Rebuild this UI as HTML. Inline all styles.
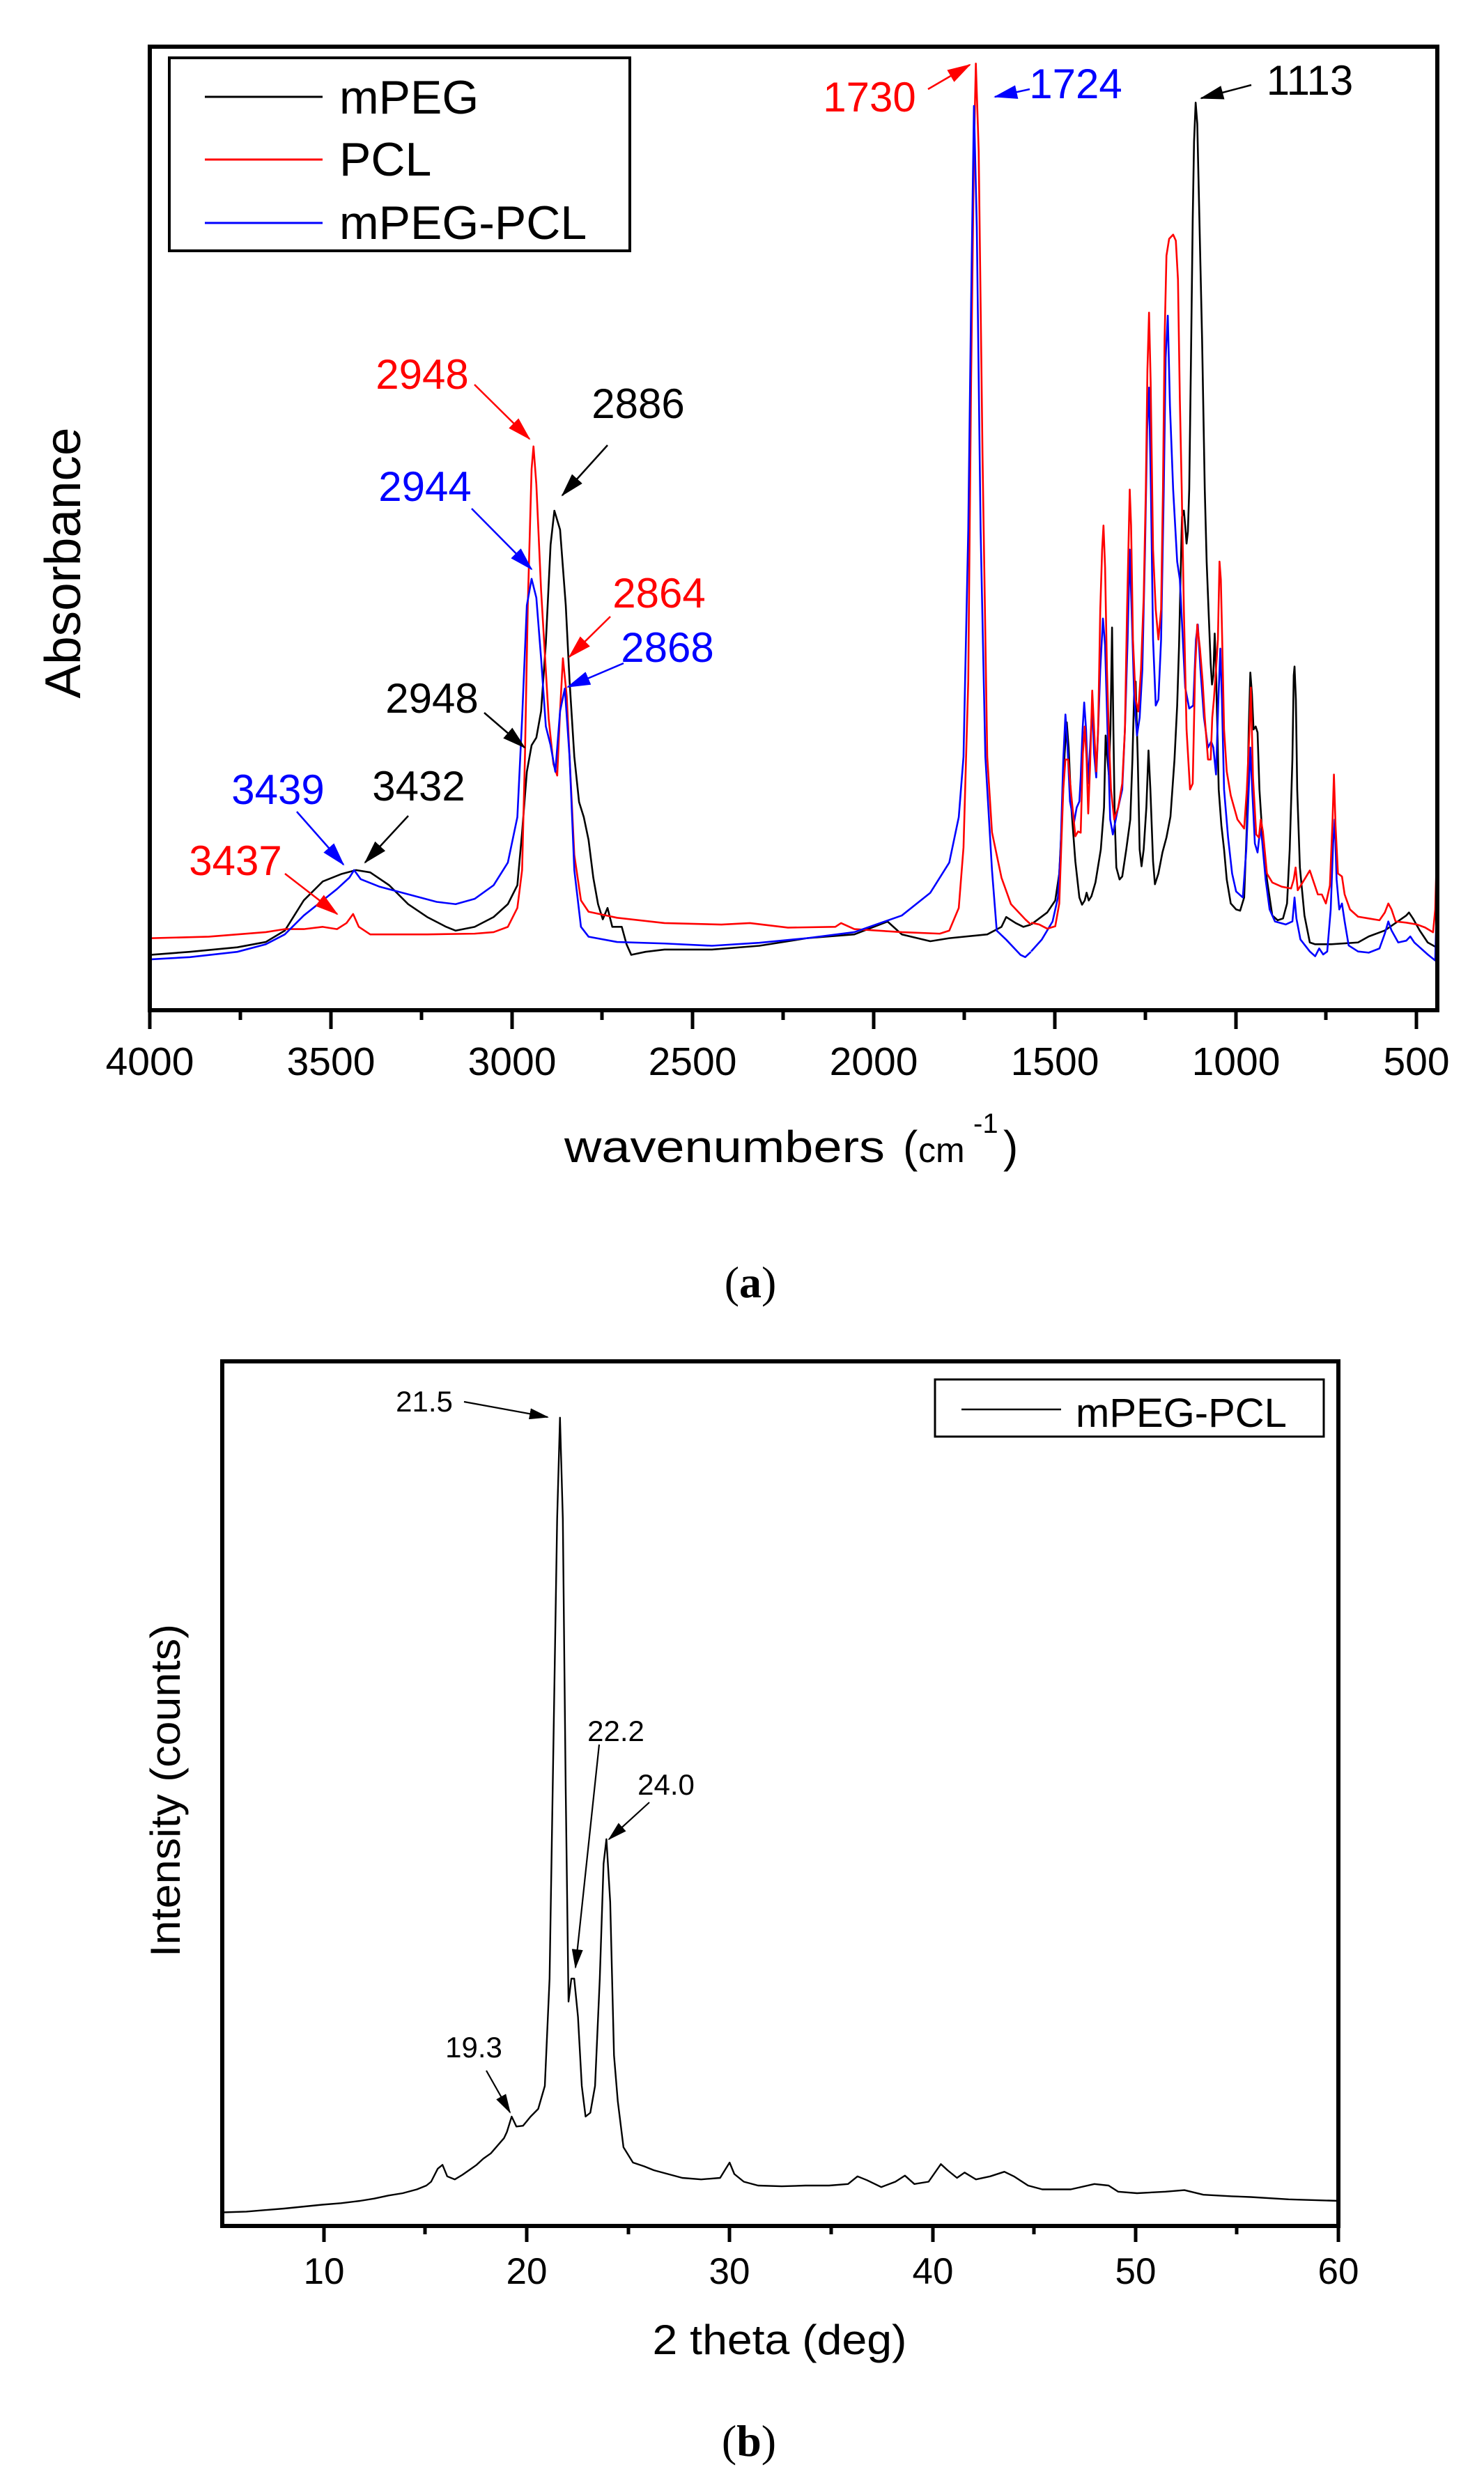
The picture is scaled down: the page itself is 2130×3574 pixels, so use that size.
<!DOCTYPE html>
<html><head><meta charset="utf-8"><style>
html,body{margin:0;padding:0;background:#fff;}
svg{display:block;}
text{font-family:"Liberation Sans",sans-serif;}
</style></head><body>
<svg width="2130" height="3574" viewBox="0 0 2130 3574" xmlns="http://www.w3.org/2000/svg">
<defs>
<marker id="ak" markerWidth="34" markerHeight="20" refX="32" refY="10" orient="auto" markerUnits="userSpaceOnUse"><path d="M0,0 L34,10 L0,20 Z" fill="#000"/></marker>
<marker id="ar" markerWidth="34" markerHeight="20" refX="32" refY="10" orient="auto" markerUnits="userSpaceOnUse"><path d="M0,0 L34,10 L0,20 Z" fill="#f00"/></marker>
<marker id="ab" markerWidth="34" markerHeight="20" refX="32" refY="10" orient="auto" markerUnits="userSpaceOnUse"><path d="M0,0 L34,10 L0,20 Z" fill="#00f"/></marker>
<marker id="ak2" markerWidth="28" markerHeight="16" refX="26" refY="8" orient="auto" markerUnits="userSpaceOnUse"><path d="M0,0 L28,8 L0,16 Z" fill="#000"/></marker>
<clipPath id="c1"><rect x="215" y="67" width="1848" height="1383"/></clipPath>
</defs>

<!-- ===== TOP CHART ===== -->
<g clip-path="url(#c1)" fill="none" stroke-width="2.6" stroke-linejoin="round">
<g transform="scale(1.3625 1.086)">
<polyline vector-effect="non-scaling-stroke" stroke="#000" points="158,1262 200,1258 250,1252 280,1245 300,1230 320,1190 340,1165 360,1155 375,1150 390,1153 410,1170 430,1195 450,1212 470,1225 480,1230 500,1225 520,1212 535,1195 545,1170 550,1100 555,1020 560,985 565,975 570,940 575,850 580,720 584,675 590,700 596,800 600,900 605,1000 610,1060 615,1080 620,1110 625,1160 630,1195 635,1215 640,1200 645,1225 655,1225 660,1248 665,1262 680,1258 700,1255 750,1255 800,1250 850,1240 900,1235 935,1218 950,1235 980,1244 1000,1240 1040,1235 1055,1225 1060,1212 1070,1220 1078,1225 1086,1222"/>
<polyline vector-effect="non-scaling-stroke" stroke="#f00" points="158,1240 220,1238 280,1232 300,1228 320,1228 340,1225 355,1228 365,1220 372,1208 378,1225 390,1235 450,1235 500,1234 520,1232 535,1225 545,1200 550,1150 553,1000 556,800 560,620 562,590 565,640 570,780 578,950 583,1010 587,1025 590,940 593,870 597,920 600,1000 605,1130 612,1190 620,1205 650,1213 700,1220 760,1222 790,1220 830,1226 880,1225 886,1220 900,1228 950,1232 990,1234 1000,1230 1010,1200 1015,1120 1020,900 1023,500 1026,200 1028,84 1031,200 1035,600 1040,1000 1045,1100 1055,1160 1065,1195 1080,1215 1086,1222"/>
<polyline vector-effect="non-scaling-stroke" stroke="#00f" points="158,1268 200,1265 250,1258 280,1248 300,1235 320,1210 340,1190 355,1175 368,1160 373,1150 380,1162 400,1172 430,1182 460,1192 480,1195 500,1188 520,1170 535,1140 545,1080 550,950 555,800 560,765 565,790 570,870 575,960 580,985 585,1020 590,940 595,910 600,1000 605,1150 612,1225 620,1238 650,1245 700,1247 750,1250 800,1246 850,1240 900,1232 950,1210 980,1180 1000,1140 1010,1080 1015,1000 1020,700 1023,400 1026,140 1029,300 1033,700 1038,1000 1045,1150 1050,1230 1060,1242 1075,1262 1080,1265 1086,1258"/>
</g>
<g transform="translate(1480 100) scale(0.3846 0.861)">
<polyline vector-effect="non-scaling-stroke" stroke="#000" points="0,1425 60,1405 90,1385 105,1340 115,1250 125,1140 133,1088 140,1130 150,1230 165,1320 180,1380 190,1392 200,1385 207,1372 215,1385 225,1378 240,1355 260,1300 272,1230 278,1110 283,1140 290,1175 296,1100 302,930 307,1100 312,1250 318,1330 330,1350 340,1345 355,1300 370,1250 378,1150 385,1030 390,1020 398,1150 405,1300 412,1328 420,1300 430,1230 438,1135 445,1200 455,1320 462,1358 475,1340 490,1305 505,1280 520,1245 535,1150 545,1060 552,960 558,840 563,745 570,735 575,760 580,790 585,770 590,700 596,500 603,250 608,120 614,55 620,90 628,250 638,450 648,700 655,820 662,900 670,990 675,1025 680,1010 685,940 690,1000 695,1100 700,1200 710,1260 720,1300 730,1350 745,1390 765,1400 780,1402 795,1380 805,1260 812,1100 818,1005 824,1040 830,1100 838,1095 845,1105 852,1200 862,1270 880,1350 900,1410 920,1418 940,1415 955,1390 965,1300 975,1150 980,1010 983,995 988,1050 993,1200 1003,1330 1020,1410 1040,1455 1060,1458 1120,1458 1220,1455 1260,1445 1320,1435 1400,1410 1410,1405 1425,1415 1450,1435 1480,1455 1520,1465"/>
<polyline vector-effect="non-scaling-stroke" stroke="#00f" points="0,1470 40,1450 80,1420 100,1380 110,1300 120,1150 128,1075 135,1120 145,1220 160,1255 170,1230 180,1220 185,1180 192,1100 198,1055 205,1100 212,1190 220,1130 228,1060 235,1140 243,1180 250,1100 258,1000 268,915 276,960 285,1100 295,1250 305,1275 320,1240 340,1200 350,1100 360,950 368,800 375,900 385,1050 395,1110 405,1080 415,1000 425,800 433,600 440,530 447,700 455,950 465,1060 475,1050 485,950 495,700 502,480 510,410 518,560 530,700 545,820 555,850 565,940 575,1030 590,1065 605,1060 615,950 622,925 632,1000 645,1080 660,1130 672,1120 680,1130 690,1175 698,1060 706,965 712,1050 720,1200 735,1280 750,1340 765,1370 790,1380 803,1300 812,1200 818,1130 825,1200 835,1290 845,1305 855,1265 862,1285 875,1350 890,1400 910,1420 950,1425 975,1420 983,1380 990,1415 1005,1450 1040,1470 1060,1478 1075,1465 1090,1475 1105,1470 1118,1400 1127,1290 1133,1250 1140,1350 1150,1400 1160,1390 1170,1420 1185,1460 1220,1470 1260,1472 1300,1465 1320,1440 1333,1420 1345,1435 1370,1455 1400,1452 1415,1445 1430,1455 1480,1475 1508,1485 1512,1420 1518,1490"/>
<polyline vector-effect="non-scaling-stroke" stroke="#f00" points="0,1422 30,1425 60,1432 90,1428 105,1390 112,1300 120,1200 128,1150 138,1150 150,1210 165,1278 175,1270 185,1272 193,1140 200,1095 207,1150 213,1240 220,1160 228,1035 235,1100 243,1170 250,1100 258,900 265,800 270,760 276,830 283,1000 290,1110 298,1200 310,1250 325,1230 340,1190 350,1100 358,900 363,800 368,700 373,760 380,950 390,1050 400,1070 410,1000 420,880 428,700 434,500 440,405 446,520 455,800 465,900 475,950 485,900 492,700 498,450 505,310 515,282 530,275 540,285 548,350 555,550 562,700 570,900 580,1100 593,1200 603,1190 612,1000 620,925 630,965 640,1020 648,1080 660,1150 670,1150 676,1080 682,1050 690,1000 697,950 703,820 708,850 713,950 720,1100 730,1170 745,1210 770,1250 795,1265 805,1200 815,1100 820,1030 828,1180 840,1275 850,1280 857,1250 865,1270 880,1340 900,1355 935,1362 970,1365 980,1350 987,1330 995,1368 1020,1350 1040,1335 1055,1355 1070,1375 1085,1375 1100,1390 1115,1360 1125,1250 1130,1175 1136,1260 1145,1340 1160,1345 1170,1375 1190,1400 1220,1412 1260,1415 1300,1418 1320,1405 1333,1390 1345,1400 1360,1420 1400,1422 1440,1425 1470,1430 1500,1438 1508,1400 1512,1335 1518,1380"/>
</g>
</g>
<rect x="215" y="67" width="1848" height="1383" fill="none" stroke="#000" stroke-width="6"/>
<!-- ticks top -->
<g stroke="#000" stroke-width="5">
<line x1="215" y1="1450" x2="215" y2="1477"/><line x1="345" y1="1450" x2="345" y2="1464"/>
<line x1="475" y1="1450" x2="475" y2="1477"/><line x1="605" y1="1450" x2="605" y2="1464"/>
<line x1="735" y1="1450" x2="735" y2="1477"/><line x1="864" y1="1450" x2="864" y2="1464"/>
<line x1="994" y1="1450" x2="994" y2="1477"/><line x1="1124" y1="1450" x2="1124" y2="1464"/>
<line x1="1254" y1="1450" x2="1254" y2="1477"/><line x1="1384" y1="1450" x2="1384" y2="1464"/>
<line x1="1514" y1="1450" x2="1514" y2="1477"/><line x1="1644" y1="1450" x2="1644" y2="1464"/>
<line x1="1774" y1="1450" x2="1774" y2="1477"/><line x1="1903" y1="1450" x2="1903" y2="1464"/>
<line x1="2033" y1="1450" x2="2033" y2="1477"/>
</g>
<g font-size="57" text-anchor="middle" fill="#000">
<text x="215" y="1543">4000</text><text x="475" y="1543">3500</text><text x="735" y="1543">3000</text>
<text x="994" y="1543">2500</text><text x="1254" y="1543">2000</text><text x="1514" y="1543">1500</text>
<text x="1774" y="1543">1000</text><text x="2033" y="1543">500</text>
</g>
<text x="810" y="1668" font-size="64" textLength="460" lengthAdjust="spacingAndGlyphs">wavenumbers</text>
<text x="1296" y="1668" font-size="64">(</text>
<text x="1318" y="1668" font-size="50">cm</text>
<text x="1397" y="1626" font-size="40">-1</text>
<text x="1440" y="1668" font-size="64">)</text>
<text transform="translate(115 808) rotate(-90)" font-size="72" text-anchor="middle" textLength="389" lengthAdjust="spacingAndGlyphs">Absorbance</text>
<!-- legend top -->
<rect x="243" y="83" width="661" height="277" fill="#fff" stroke="#000" stroke-width="4"/>
<line x1="294" y1="139" x2="463" y2="139" stroke="#000" stroke-width="3"/>
<line x1="294" y1="229" x2="463" y2="229" stroke="#f00" stroke-width="3"/>
<line x1="294" y1="320" x2="463" y2="320" stroke="#00f" stroke-width="3"/>
<g font-size="68" fill="#000"><text x="487" y="163">mPEG</text><text x="487" y="252">PCL</text><text x="487" y="343">mPEG-PCL</text></g>
<!-- annotations top -->
<g font-size="60" text-anchor="middle">
<text x="606" y="558" fill="#f00">2948</text>
<text x="916" y="600" fill="#000">2886</text>
<text x="610" y="719" fill="#00f">2944</text>
<text x="946" y="872" fill="#f00">2864</text>
<text x="958" y="950" fill="#00f">2868</text>
<text x="620" y="1023" fill="#000">2948</text>
<text x="399" y="1154" fill="#00f">3439</text>
<text x="601" y="1149" fill="#000">3432</text>
<text x="338" y="1256" fill="#f00">3437</text>
<text x="1248" y="160" fill="#f00">1730</text>
<text x="1544" y="141" fill="#00f">1724</text>
<text x="1880" y="136" fill="#000">1113</text>
</g>
<g stroke-width="2.5" fill="none">
<line x1="681" y1="552" x2="760" y2="630" stroke="#f00" marker-end="url(#ar)"/>
<line x1="872" y1="639" x2="807" y2="711" stroke="#000" marker-end="url(#ak)"/>
<line x1="677" y1="730" x2="763" y2="817" stroke="#00f" marker-end="url(#ab)"/>
<line x1="876" y1="885" x2="817" y2="943" stroke="#f00" marker-end="url(#ar)"/>
<line x1="895" y1="952" x2="815" y2="986" stroke="#00f" marker-end="url(#ab)"/>
<line x1="695" y1="1023" x2="753" y2="1073" stroke="#000" marker-end="url(#ak)"/>
<line x1="426" y1="1165" x2="493" y2="1241" stroke="#00f" marker-end="url(#ab)"/>
<line x1="586" y1="1171" x2="524" y2="1238" stroke="#000" marker-end="url(#ak)"/>
<line x1="409" y1="1254" x2="484" y2="1312" stroke="#f00" marker-end="url(#ar)"/>
<line x1="1332" y1="128" x2="1392" y2="93" stroke="#f00" marker-end="url(#ar)"/>
<line x1="1478" y1="128" x2="1428" y2="139" stroke="#00f" marker-end="url(#ab)"/>
<line x1="1796" y1="122" x2="1724" y2="141" stroke="#000" marker-end="url(#ak)"/>
</g>
<text x="1077" y="1862" font-family="Liberation Serif,serif" font-size="64" text-anchor="middle" style="font-family:'Liberation Serif',serif">(<tspan font-weight="bold">a</tspan>)</text>

<!-- ===== BOTTOM CHART ===== -->
<g transform="translate(0 1850) scale(1.36 1.10)">
<polyline vector-effect="non-scaling-stroke" fill="none" stroke="#000" stroke-width="2.4" stroke-linejoin="round" points="235,1205 260,1204 300,1200 340,1195 360,1193 380,1190 395,1187 410,1183 425,1180 440,1175 450,1170 455,1165 462,1148 467,1143 472,1158 480,1162 488,1156 495,1150 503,1143 510,1135 518,1128 525,1118 532,1108 535,1100 540,1080 545,1093 552,1092 560,1080 568,1070 575,1040 580,900 584,600 588,300 591,168 594,300 597,650 600,930 603,900 606,900 610,950 614,1040 618,1080 623,1075 628,1040 633,900 637,750 640,718 644,800 648,1000 652,1060 658,1120 668,1140 680,1145 690,1150 705,1155 720,1160 740,1162 760,1160 766,1148 770,1140 775,1155 785,1165 800,1170 825,1171 850,1170 875,1170 895,1168 905,1158 915,1163 930,1172 945,1165 955,1157 965,1168 980,1165 993,1142 1000,1150 1010,1160 1018,1153 1030,1162 1045,1158 1060,1152 1070,1158 1085,1170 1100,1175 1130,1175 1155,1168 1170,1170 1180,1178 1200,1180 1230,1178 1250,1176 1270,1182 1300,1184 1320,1185 1360,1188 1413,1190"/>
</g>
<rect x="319" y="1954" width="1602" height="1241" fill="none" stroke="#000" stroke-width="6"/>
<g stroke="#000" stroke-width="5">
<line x1="465" y1="3195" x2="465" y2="3218"/><line x1="756" y1="3195" x2="756" y2="3218"/>
<line x1="1047" y1="3195" x2="1047" y2="3218"/><line x1="1339" y1="3195" x2="1339" y2="3218"/>
<line x1="1630" y1="3195" x2="1630" y2="3218"/><line x1="1921" y1="3195" x2="1921" y2="3218"/>
<line x1="610" y1="3195" x2="610" y2="3207"/><line x1="902" y1="3195" x2="902" y2="3207"/>
<line x1="1193" y1="3195" x2="1193" y2="3207"/><line x1="1484" y1="3195" x2="1484" y2="3207"/>
<line x1="1775" y1="3195" x2="1775" y2="3207"/>
</g>
<g font-size="53" text-anchor="middle" fill="#000">
<text x="465" y="3278">10</text><text x="756" y="3278">20</text><text x="1047" y="3278">30</text>
<text x="1339" y="3278">40</text><text x="1630" y="3278">50</text><text x="1921" y="3278">60</text>
</g>
<text x="1119" y="3379" font-size="60" text-anchor="middle" textLength="365" lengthAdjust="spacingAndGlyphs">2 theta (deg)</text>
<text transform="translate(258 2570) rotate(-90)" font-size="60" text-anchor="middle" textLength="478" lengthAdjust="spacingAndGlyphs">Intensity (counts)</text>
<rect x="1342" y="1980" width="558" height="82" fill="#fff" stroke="#000" stroke-width="3"/>
<line x1="1380" y1="2023" x2="1523" y2="2023" stroke="#000" stroke-width="2.5"/>
<text x="1544" y="2048" font-size="58">mPEG-PCL</text>
<g font-size="42" text-anchor="middle">
<text x="609" y="2026">21.5</text><text x="884" y="2499">22.2</text>
<text x="956" y="2576">24.0</text><text x="680" y="2953">19.3</text>
</g>
<g stroke="#000" stroke-width="2.2">
<line x1="666" y1="2012" x2="786" y2="2034" marker-end="url(#ak2)"/>
<line x1="860" y1="2504" x2="826" y2="2824" marker-end="url(#ak2)"/>
<line x1="932" y1="2587" x2="874" y2="2640" marker-end="url(#ak2)"/>
<line x1="698" y1="2972" x2="732" y2="3032" marker-end="url(#ak2)"/>
</g>
<text x="1075" y="3525" font-size="64" text-anchor="middle" style="font-family:'Liberation Serif',serif">(<tspan font-weight="bold">b</tspan>)</text>
</svg>
</body></html>
